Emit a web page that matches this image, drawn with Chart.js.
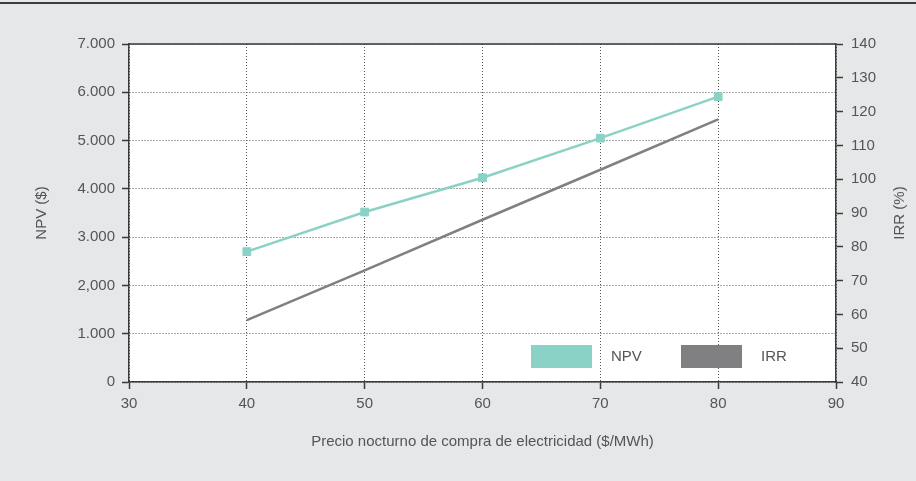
<!DOCTYPE html>
<html>
<head>
<meta charset="utf-8">
<script src="https://cdn.jsdelivr.net/npm/chart.js@4/dist/chart.umd.min.js"></script>
<style>
    html, body { margin: 0; padding: 0; background: #ffffff; }
    #wrap { position: absolute; left: 0; top: 0; width: 916px; height: 481px; background: #e6e7e8; }
    #topline { position: absolute; left: 0; top: 2px; width: 916px; height: 2px; background: #3c3c3c; }
    canvas { display: block; }
</style>
</head>
<body>
<div id="wrap">
    <canvas id="npvIrr" width="916" height="481"></canvas>
</div>
<div id="topline"></div>
<script>
// night purchase price ($/MWh)
const prices = [40, 50, 60, 70, 80];
// NPV ($)
const npvValues = [2700, 3520, 4230, 5050, 5910];
// IRR (%)
const irrValues = [58.3, 73, 88, 102.8, 117.7];
// left axis labels as printed (note the comma on 2,000)
const npvTickLabels = ['0', '1.000', '2,000', '3.000', '4.000', '5.000', '6.000', '7.000'];

const textColor = '#555555';
const gridColor = '#555555';
const axisColor = '#3a3a3a';
const font = { family: '"Liberation Sans", Arial, sans-serif', size: 15 };

// white plot area + solid top frame line
const plotFrame = {
    id: 'plotFrame',
    beforeDraw(chart) {
        const { ctx, chartArea: a } = chart;
        ctx.save();
        ctx.fillStyle = '#ffffff';
        ctx.fillRect(a.left, a.top, a.right - a.left, a.bottom - a.top);
        ctx.restore();
    },
    afterDraw(chart) {
        const { ctx, chartArea: a } = chart;
        ctx.save();
        ctx.strokeStyle = axisColor;
        ctx.lineWidth = 1.5;
        ctx.beginPath();
        ctx.moveTo(a.left, a.top);
        ctx.lineTo(a.right, a.top);
        ctx.stroke();
        // right axis title, reading bottom to top like the left one
        ctx.fillStyle = textColor;
        ctx.font = font.size + 'px ' + font.family;
        ctx.textAlign = 'center';
        ctx.textBaseline = 'middle';
        ctx.translate(900, (a.top + a.bottom) / 2);
        ctx.rotate(-Math.PI / 2);
        ctx.fillText('IRR (%)', 0, 0);
        ctx.restore();
    }
};

// legend sitting inside the plot, bottom right
const innerLegend = {
    id: 'innerLegend',
    afterDraw(chart) {
        const { ctx, chartArea: a } = chart;
        ctx.save();
        ctx.font = font.size + 'px ' + font.family;
        ctx.textBaseline = 'middle';
        ctx.textAlign = 'left';
        chart.data.datasets.forEach((ds, i) => {
            const x = a.left + 402 + i * 150;
            const y = a.bottom - 37;
            ctx.fillStyle = ds.borderColor;
            ctx.fillRect(x, y, 61, 23);
            ctx.fillStyle = textColor;
            ctx.fillText(ds.label, x + 80, y + 12);
        });
        ctx.restore();
    }
};

let ctx = document.getElementById('npvIrr').getContext('2d');

new Chart(ctx, {
    type: 'line',
    data: {
        datasets: [
            {
                label           : 'NPV',
                borderColor     : '#8bd2c6',
                backgroundColor : '#8bd2c6',
                borderWidth     : 2.5,
                pointStyle      : 'rect',
                pointRadius     : 5.5,
                pointBorderWidth: 1,
                yAxisID         : 'y',
                data            : prices.map((p, i) => ({ x: p, y: npvValues[i] }))
            },
            {
                label           : 'IRR',
                borderColor     : '#808083',
                backgroundColor : '#808083',
                borderWidth     : 2.5,
                pointRadius     : 0,
                yAxisID         : 'y2',
                data            : prices.map((p, i) => ({ x: p, y: irrValues[i] }))
            }
        ]
    },
    options: {
        responsive: false,
        animation: false,
        layout: { padding: { top: 44, left: 0, right: 0, bottom: 0 } },
        plugins: {
            legend: { display: false },
            tooltip: { enabled: false }
        },
        scales: {
            x: {
                type: 'linear',
                min: 30,
                max: 90,
                ticks: { stepSize: 10, color: textColor, font: font, padding: 6, maxRotation: 0 },
                grid: { color: gridColor, tickLength: 7, tickColor: axisColor, tickWidth: 1.5 },
                border: { color: axisColor, width: 1.5, dash: [1, 2] },
                title: {
                    display: true,
                    text: 'Precio nocturno de compra de electricidad ($/MWh)',
                    color: textColor,
                    font: font,
                    padding: { top: 4, bottom: 30 }
                },
                afterFit: (s) => { s.height = 99; }
            },
            y: {
                position: 'left',
                min: 0,
                max: 7000,
                ticks: {
                    stepSize: 1000,
                    color: textColor,
                    font: font,
                    padding: 7,
                    callback: (v, i) => npvTickLabels[i]
                },
                grid: { color: gridColor, tickLength: 7, tickColor: axisColor, tickWidth: 1.5 },
                border: { color: axisColor, width: 1.5, dash: [1, 2] },
                title: {
                    display: true,
                    text: 'NPV ($)',
                    color: textColor,
                    font: font,
                    padding: { top: 33, bottom: 0 }
                },
                afterFit: (s) => { s.width = 129; }
            },
            y2: {
                position: 'right',
                min: 40,
                max: 140,
                ticks: { stepSize: 10, color: textColor, font: font, padding: 8 },
                grid: { drawOnChartArea: false, tickLength: 7, tickColor: axisColor, tickWidth: 1.5 },
                border: { color: axisColor, width: 1.5 },
                title: { display: false },
                afterFit: (s) => { s.width = 80; }
            }
        }
    },
    plugins: [plotFrame, innerLegend]
});
</script>
</body>
</html>
